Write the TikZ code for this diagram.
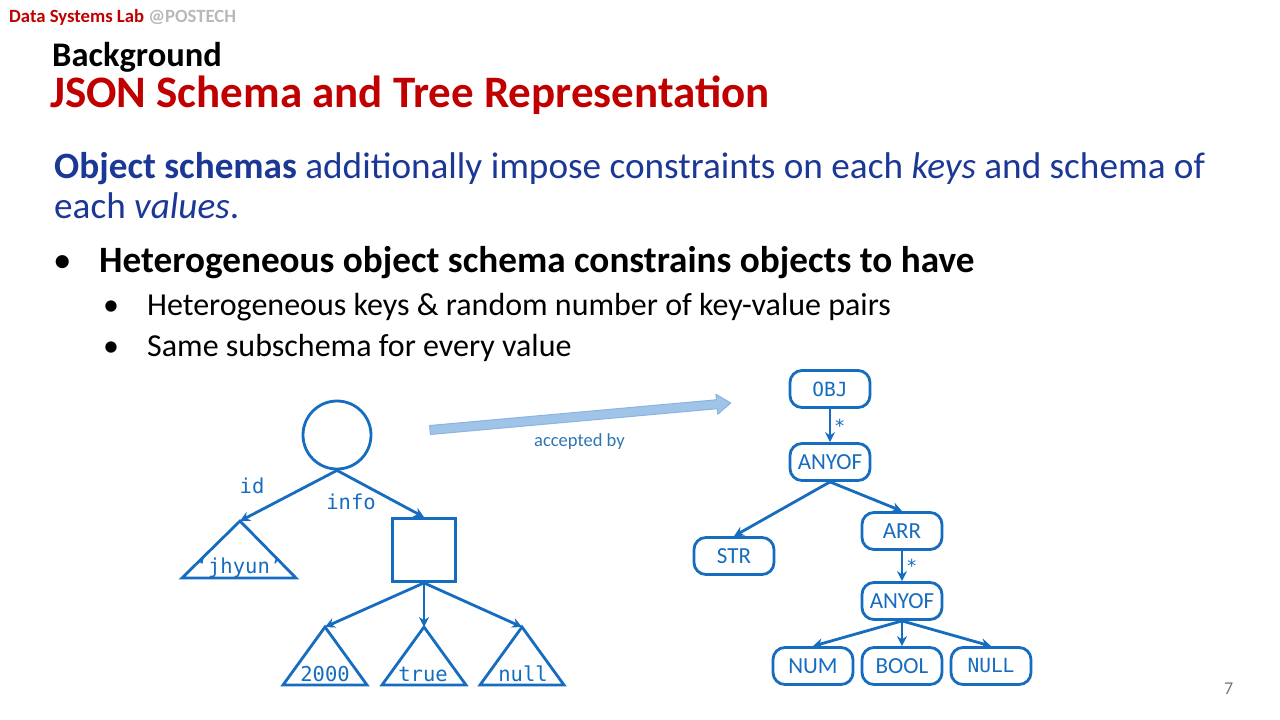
\documentclass[tikz,border=0pt]{standalone}
\usepackage{fontspec}
\setmainfont{Carlito}
\newfontfamily\monof{DejaVu Sans Mono}
\usetikzlibrary{arrows.meta}
\definecolor{titlered}{RGB}{192,0,0}
\definecolor{bodyblue}{RGB}{28,56,150}
\definecolor{diag}{RGB}{22,108,190}
\definecolor{arrowfill}{RGB}{160,196,232}
\definecolor{arrowline}{RGB}{140,180,224}
\definecolor{accblue}{RGB}{46,117,182}
\definecolor{pgray}{RGB}{120,120,120}
\begin{document}
\begin{tikzpicture}[x=1pt,y=-1pt,
  fs/.style={font=\fontsize{#1}{#1}\selectfont},
  txt/.style={inner sep=0pt,anchor=base west},
  edge/.style={draw=diag,line width=2.8pt,-{Stealth[length=10pt,width=10pt]}},
  tri/.style={draw=diag,line width=2.8pt,line join=miter},
  rbox/.style={draw=diag,line width=2.8pt,rounded corners=12pt,minimum width=80pt,minimum height=37pt,inner sep=0pt,text=diag,font=\fontsize{23}{23}\selectfont},
  mlab/.style={text=diag,inner sep=0pt,font=\monof\fontsize{20.5}{20.5}\selectfont}
]
\useasboundingbox (0,0) rectangle (1280,720);
\fill[white] (0,0) rectangle (1280,720);
% header
\node[txt,fs=18.7] (lab) at (9,22) {\textbf{\color{titlered}Data Systems Lab} {\color{gray!55}\textbf{@POSTECH}}};
\node[txt,fs=34.5] (bg) at (52,66) {\textbf{Background}};
\node[txt,fs=45,text=titlered] (title) at (50,107) {\textbf{JSON Schema and Tree Representation}};
% body text
\node[txt,fs=37.2,text=bodyblue] (l1) at (54,178) {\textbf{Object schemas} additionally impose constraints on each \textit{keys} and schema of};
\node[txt,fs=37.2,text=bodyblue] (l2) at (54,218) {each \textit{values}.};
\node[txt,fs=37] (b1) at (53,272) {\textbullet};
\node[txt,fs=37.2] (t1) at (99,272) {\textbf{Heterogeneous object schema constrains objects to have}};
\node[txt,fs=32] (b2) at (103,315) {\textbullet};
\node[txt,fs=32] (t2) at (147,315) {Heterogeneous keys \& random number of key-value pairs};
\node[txt,fs=32] (b3) at (103,356) {\textbullet};
\node[txt,fs=32] (t3) at (147,356) {Same subschema for every value};
\node[txt,fs=18,text=pgray] (pg) at (1224,694) {7};
% left tree
\node[draw=diag,line width=2.8pt,circle,minimum size=68pt,inner sep=0pt] (root) at (337,435) {};
\node[draw=diag,line width=2.8pt,rectangle,minimum size=63pt,inner sep=0pt] (obj) at (424,550) {};
\coordinate (tJ) at (240,521);
\coordinate (t2000) at (325,627);
\coordinate (ttrue) at (424,627);
\coordinate (tnull) at (522,627);
\draw[tri] (tJ) -- (296,578) -- (182,578) -- cycle;
\draw[tri] (t2000) -- (367,685) -- (283,685) -- cycle;
\draw[tri] (ttrue) -- (466,685) -- (382,685) -- cycle;
\draw[tri] (tnull) -- (564,685) -- (480,685) -- cycle;
\node[mlab,anchor=base] (vJ) at (239,573) {‘jhyun’};
\node[mlab,anchor=base] (v2000) at (325,681) {2000};
\node[mlab,anchor=base] (vtrue) at (423,681) {true};
\node[mlab,anchor=base] (vnull) at (523,681) {null};
\draw[edge] (root.south) -- (tJ);
\draw[edge] (root.south) -- (obj.north);
\draw[edge] (obj.south) -- (t2000);
\draw[edge] (obj.south) -- (ttrue);
\draw[edge] (obj.south) -- (tnull);
\node[mlab] (kid) at (252,486) {id};
\node[mlab] (kinfo) at (351,502) {info};
% big arrow
\begin{scope}[shift={(430,430)},rotate=5.13]
\draw[fill=arrowfill,draw=arrowline,line width=1pt,line join=round]
  (0,-4.5) -- (288,-4.5) -- (288,-10) -- (302,0) -- (288,10) -- (288,4.5) -- (0,4.5) -- cycle;
\end{scope}
\node[txt,fs=18.5,text=accblue] (acc) at (534,446) {accepted by};
% schema tree
\node[rbox,font=\monof\fontsize{19.5}{19.5}\selectfont] (OBJ) at (830,389) {OBJ};
\node[rbox] (ANY1) at (830,462) {ANYOF};
\node[rbox] (STR) at (734,556) {STR};
\node[rbox] (ARR) at (902,531) {ARR};
\node[rbox] (ANY2) at (902,601) {ANYOF};
\node[rbox] (NUM) at (813,666) {NUM};
\node[rbox] (BOOL) at (902,666) {BOOL};
\node[rbox,font=\monof\fontsize{19.5}{19.5}\selectfont] (NULL) at (991,666) {NULL};
\draw[edge] (OBJ.south) -- node[right=3pt,text=diag,font=\monof\fontsize{18}{18}\selectfont,inner sep=0pt,pos=0.5]{*} (ANY1.north);
\draw[edge] (ANY1.south) -- (STR.north);
\draw[edge] (ANY1.south) -- (ARR.north);
\draw[edge] (ARR.south) -- node[right=3pt,text=diag,font=\monof\fontsize{18}{18}\selectfont,inner sep=0pt,pos=0.5]{*} (ANY2.north);
\draw[edge] (ANY2.south) -- (NUM.north);
\draw[edge] (ANY2.south) -- (BOOL.north);
\draw[edge] (ANY2.south) -- (NULL.north);
\end{tikzpicture}
\end{document}
